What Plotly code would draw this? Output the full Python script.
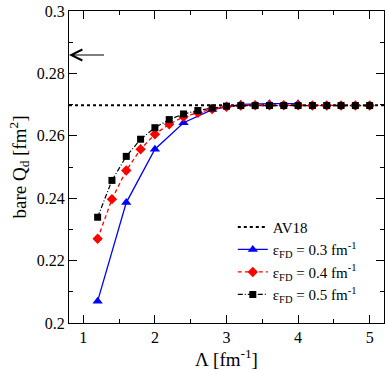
import plotly.graph_objects as go

# ---- data ----
lam_03 = [1.2, 1.6, 2.0, 2.4, 2.8, 3.2, 3.6, 4.0]
q_03 = [0.2070, 0.2386, 0.2557, 0.2642, 0.2684, 0.2701, 0.2703, 0.2703]

lam_04 = [1.2, 1.4, 1.6, 1.8, 2.0, 2.2, 2.4, 2.6, 2.8, 3.0, 3.2, 3.4, 3.6, 3.8, 4.0, 4.2, 4.4, 4.6, 4.8, 5.0]
q_04 = [0.2270, 0.2397, 0.2489, 0.2557, 0.2605, 0.2637, 0.2661, 0.2674, 0.2686, 0.2693,
        0.2697, 0.2698, 0.2698, 0.2698, 0.2698, 0.2697, 0.2697, 0.2697, 0.2697, 0.2697]

lam_05 = [1.2, 1.4, 1.6, 1.8, 2.0, 2.2, 2.4, 2.6, 2.8, 3.0, 3.2, 3.4, 3.6, 3.8, 4.0, 4.2, 4.4, 4.6, 4.8, 5.0]
q_05 = [0.2339, 0.2457, 0.2534, 0.2589, 0.2626, 0.2652, 0.2670, 0.2681, 0.2689, 0.2695,
        0.2697, 0.2697, 0.2697, 0.2697, 0.2697, 0.2697, 0.2697, 0.2697, 0.2697, 0.2697]

av18_q = 0.2698
exp_q = 0.2859

x_range = [0.8, 5.2]
y_range = [0.2, 0.3]
x_ticks = [1, 2, 3, 4, 5]
x_ticklabels = ["1", "2", "3", "4", "5"]
y_ticks = [0.2, 0.22, 0.24, 0.26, 0.28, 0.3]
y_ticklabels = ["0.2", "0.22", "0.24", "0.26", "0.28", "0.3"]

FONT = "Liberation Serif, Times New Roman, Times, serif"

fig = go.Figure()

fig.add_trace(go.Scatter(
    x=x_range, y=[av18_q, av18_q], mode="lines", name="AV18",
    line=dict(color="black", width=2, dash="dot"), hoverinfo="skip"))

fig.add_trace(go.Scatter(
    x=lam_03, y=q_03, mode="lines+markers",
    name="ε<sub>FD</sub> = 0.3 fm<sup>-1</sup>",
    line=dict(color="#0000ff", width=1.3),
    marker=dict(symbol="triangle-up", size=9, color="#0000ff")))

fig.add_trace(go.Scatter(
    x=lam_04, y=q_04, mode="lines+markers",
    name="ε<sub>FD</sub> = 0.4 fm<sup>-1</sup>",
    line=dict(color="#ff0000", width=1.3, dash="4px,3px"),
    marker=dict(symbol="diamond", size=8, color="#ff0000")))

fig.add_trace(go.Scatter(
    x=lam_05, y=q_05, mode="lines+markers",
    name="ε<sub>FD</sub> = 0.5 fm<sup>-1</sup>",
    line=dict(color="black", width=1.2, dash="5px,2px,1px,2px"),
    marker=dict(symbol="square", size=7, color="black")))

fig.add_annotation(
    x=x_range[0], y=exp_q, ax=1.31, ay=exp_q, axref="x", ayref="y",
    xref="x", yref="y", text="", showarrow=True,
    arrowhead=5, arrowsize=1.8, arrowwidth=1.2, arrowcolor="black")

axis_common = dict(
    showgrid=False, zeroline=False, showline=True, linecolor="black",
    linewidth=1.3, mirror="ticks", ticks="inside", ticklen=8,
    tickcolor="black", tickwidth=1, ticklabeloverflow="allow",
    tickfont=dict(family=FONT, size=16, color="black"),
)

fig.update_xaxes(
    range=x_range, tickmode="array", tickvals=x_ticks, ticktext=x_ticklabels,
    minor=dict(ticks="inside", ticklen=4, dtick=0.5, tick0=0.5, tickcolor="black"),
    title=dict(text="Λ [fm<sup>-1</sup>]", font=dict(family=FONT, size=19, color="black"),
               standoff=6),
    **axis_common)
fig.update_yaxes(
    range=y_range, tickmode="array", tickvals=y_ticks, ticktext=y_ticklabels,
    minor=dict(ticks="inside", ticklen=4, dtick=0.01, tick0=0.2, tickcolor="black"),
    title=dict(text="bare Q<sub>d</sub> [fm<sup>2</sup>]",
               font=dict(family=FONT, size=19, color="black"), standoff=5),
    **axis_common)

fig.update_layout(
    width=388, height=370,
    margin=dict(l=69, r=3, t=7, b=47),
    plot_bgcolor="white", paper_bgcolor="white",
    font=dict(family=FONT, color="black"),
    legend=dict(x=0.52, y=0.36, xanchor="left", yanchor="top",
                bgcolor="rgba(0,0,0,0)", itemwidth=30,
                font=dict(family=FONT, size=15, color="black"),
                tracegroupgap=0),
    showlegend=True,
)

fig.write_html("out.html", config={"displayModeBar": False},
               post_script="document.body.style.margin='0';document.body.style.overflow='hidden';")
